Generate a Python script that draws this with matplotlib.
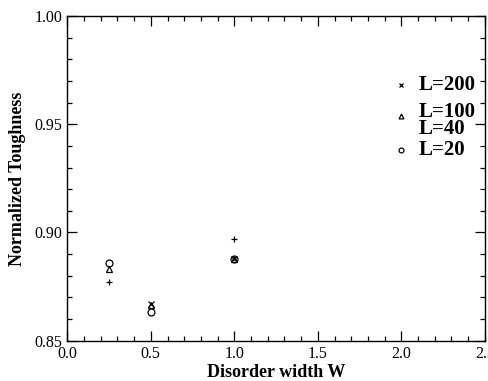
import matplotlib

matplotlib.use("Agg")
import matplotlib.pyplot as plt
from matplotlib.ticker import FormatStrFormatter, MultipleLocator

# Normalized toughness vs disorder width
W_L20 = [0.25, 0.5, 1.0]
T_L20 = [0.8858, 0.8632, 0.8877]
W_L40 = [0.25, 1.0]
T_L40 = [0.8770, 0.8970]
W_L100 = [0.25, 0.5, 1.0]
T_L100 = [0.8831, 0.8663, 0.8877]
W_L200 = [0.5, 1.0]
T_L200 = [0.8668, 0.8877]

LEGEND_LABELS = ["L=200", "L=100", "L=40", "L=20"]
LEGEND_Y = [0.968, 0.9555, 0.948, 0.938]

plt.rcParams["font.family"] = ["Liberation Serif", "DejaVu Serif"]

fig = plt.figure(figsize=(4.89, 3.81), dpi=100)
ax = fig.add_axes([0.1376, 0.1058, 0.854, 0.852])

ax.plot(W_L20, T_L20, "o", mfc="none", mec="black", ms=5, mew=0.9)
ax.plot(W_L40, T_L40, "+", color="black", ms=5, mew=0.9)
ax.plot(W_L100, T_L100, "^", mfc="none", mec="black", ms=4.5, mew=0.9)
ax.plot(W_L200, T_L200, "x", color="black", ms=4, mew=0.9)

# hand-placed legend, as in the original figure
legend_markers = ["x", "^", None, "o"]
for label, y, marker in zip(LEGEND_LABELS, LEGEND_Y, legend_markers, strict=True):
    ax.text(2.105, y, label, fontsize=15, fontweight="bold", va="center", ha="left")
    if marker is not None:
        ax.plot([2.0], [y - (0.0015 if marker == "^" else 0)], marker,
                color="black", mfc="none", ms=3.5, mew=0.9)

ax.set_xlim(0.0, 2.5)
ax.set_ylim(0.85, 1.00)
ax.xaxis.set_major_locator(MultipleLocator(0.5))
ax.xaxis.set_minor_locator(MultipleLocator(0.1))
ax.yaxis.set_major_locator(MultipleLocator(0.05))
ax.yaxis.set_minor_locator(MultipleLocator(0.01))
ax.xaxis.set_major_formatter(FormatStrFormatter("%.1f"))
ax.yaxis.set_major_formatter(FormatStrFormatter("%.2f"))
ax.tick_params(which="both", direction="in", top=True, right=True, labelsize=11.5, width=0.9)
ax.tick_params(which="major", length=7)
ax.tick_params(which="minor", length=3.5)
for spine in ax.spines.values():
    spine.set_linewidth(1.0)

ax.set_xlabel("Disorder width W", fontsize=13, fontweight="bold", labelpad=2)
ax.set_ylabel("Normalized Toughness", fontsize=13, fontweight="bold", labelpad=6)

fig.savefig("out.png", dpi=100)
